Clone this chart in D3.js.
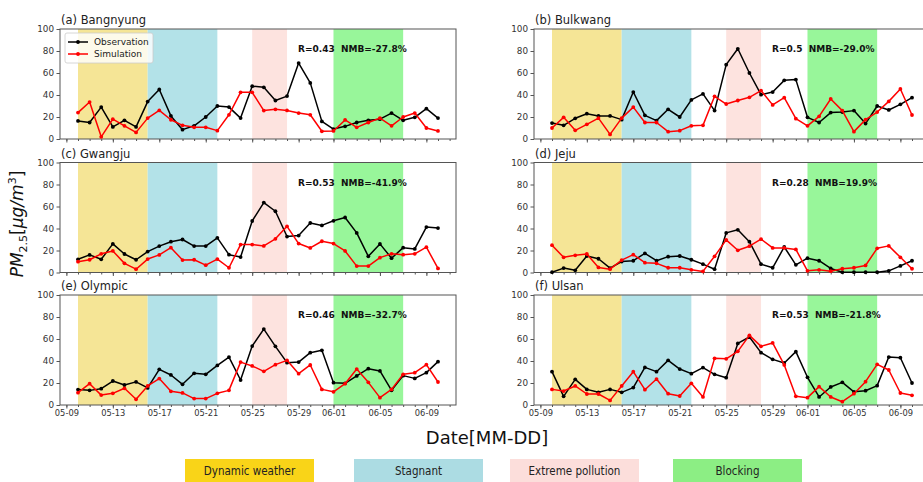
<!DOCTYPE html>
<html>
<head>
<meta charset="utf-8">
<script src="https://cdn.jsdelivr.net/npm/d3@7"></script>
<style>
  body { margin: 0; background: #fff; }
  svg { display: block; font-family: "DejaVu Sans", sans-serif; }
</style>
</head>
<body>
<svg id="chart" width="923" height="482"></svg>
<script>
// Daily PM2.5 at six stations, 10 May – 10 June
const dayLabels = ["05-10","05-11","05-12","05-13","05-14","05-15","05-16","05-17","05-18","05-19",
  "05-20","05-21","05-22","05-23","05-24","05-25","05-26","05-27","05-28","05-29","05-30","05-31",
  "06-01","06-02","06-03","06-04","06-05","06-06","06-07","06-08","06-09","06-10"];

const stations = ["(a) Bangnyung","(b) Bulkwang","(c) Gwangju","(d) Jeju","(e) Olympic","(f) Ulsan"];
const statsText = ["R=0.43  NMB=-27.8%","R=0.5  NMB=-29.0%","R=0.53  NMB=-41.9%",
  "R=0.28  NMB=19.9%","R=0.46  NMB=-32.7%","R=0.53  NMB=-21.8%"];

const obsBangnyung = [16.4,15,29,11,17,11,34,45,21,8.5,12,20,30,29,19,48,47,35,39,69,51,16,9,11.5,15,17,18,23.6,17,19.7,27.6,19];
const simBangnyung = [24,33.6,2,18,12,6,19,26,17.5,12.4,10.6,10.6,7.6,22,42.4,42.4,25.8,27,26,23.6,22,7,7.3,17.3,10.6,15,19,12,20,23.6,10,7.3];
const obsBulkwang = [14.5,12.4,18.8,23,21,21,17.6,42.7,21.5,16.7,27,20,35.5,41,25.8,67.6,82,60,40.3,42.7,53.3,54,19.7,15,24,24.5,25.8,14,30,26.4,31.5,37.6];
const simBulkwang = [10,19.7,7.9,13.3,19,4.2,19,29,15,15,6.7,7.6,12,12.4,38.8,31.8,35,37.9,44,31,37.6,18.5,12,20.6,36.4,25.8,6.7,17.6,24.5,34.2,45.5,21.8];
const obsGwangju = [12,16,12,26,16.8,11.6,19,24,28,30,24,24,31.5,16.2,14,46.8,63.6,55.7,32.7,33.6,45,42.8,47,50,36,14.7,26,13,22.6,21.4,41.3,40.4];
const simGwangju = [9.8,11.6,17,19.6,8.3,3,12.2,16,22.6,11.3,11.6,6.7,12.2,4.3,25.4,25.4,24.2,30.6,42,26.3,22.3,28.4,26.3,19.6,5.8,5.8,13.5,17,16.2,17,23,3.7];
const obsJeju = [0.3,4,2,15,12.5,4,10,10.7,17.4,10.7,14.4,15,11.6,7.6,3,36,38.8,28,7.6,4.3,23.2,7,13,10.7,3.7,0.3,0.3,0.3,0.3,1.5,6,10.7];
const simJeju = [24.8,13.8,15.6,16.8,4.6,3,11.3,16.2,8.9,8.3,4.3,4.3,2.4,1,14.7,29.7,20.2,23.9,30.3,22.3,22.3,21,1.5,2.4,1.2,3.4,4.3,6.4,22,24.2,13.8,3.4];
const obsOlympic = [14,13.3,14.8,21.8,18.2,21,15.5,32.4,27.3,18.8,28.8,27.9,36,43.6,22.7,53.6,69,53.3,38.5,39,47.6,49.7,20.3,19.7,26.4,33,31,13.3,26.7,24.2,29.4,39.4];
const simOlympic = [11.2,19.4,9,10.6,15.2,5.2,17.3,24,12.4,11,5.8,5.8,10.6,13.3,39,35.5,30.6,36.7,40.6,28.5,36.4,14.2,12,19.4,32.7,20.6,6.7,14.2,27.9,29.4,36.7,20.9];
const obsUlsan = [30.3,7.9,23.3,14.2,11.5,14.2,11.5,15.8,34.2,30.3,40.6,32.7,28.5,34,27.9,24.8,56,61.8,47.6,41.5,38.2,48.5,25.2,7.3,16.4,20.6,12,13,17.6,43.6,43,20];
const simUlsan = [14.2,12.7,17.3,10,10,4.2,17.3,30.3,13.9,23.6,10.3,8.2,19.7,7.3,42.4,42,48.8,63.3,53.3,56.4,36.4,7.9,6.7,16.7,7.3,3,10.3,21.2,37,31.8,10.9,8.8];

const obsSeries = [obsBangnyung, obsBulkwang, obsGwangju, obsJeju, obsOlympic, obsUlsan];
const simSeries = [simBangnyung, simBulkwang, simGwangju, simJeju, simOlympic, simUlsan];

// Weather regimes shaded on every panel
const periodNames = ["Dynamic weather","Stagnant","Extreme pollution","Blocking"];
const periodStart = ["05-10","05-16","05-25","06-01"];
const periodEnd   = ["05-16","05-22","05-28","06-07"];
const periodBand  = ["#f5e596","#b3e2e8","#fde3df","#98f69a"];
const periodSwatch = ["#f9d418","#acdce3","#fcdedb","#8cee84"];

const majorTickLabels = ["05-09","05-13","05-17","05-21","05-25","05-29","06-01","06-05","06-09"];
const yTicks = [0,20,40,60,80,100];

const YEAR = 2021;
const toDate = s => { const [m, d] = s.split("-").map(Number); return new Date(YEAR, m - 1, d); };
const dates = dayLabels.map(toDate);

const svg = d3.select("#chart");

const plotW = 396, plotH = 110;
const colX = [60, 534];
const rowY = [29, 162.5, 295];

// Date axis padded by a day and a half on both sides
const padMs = 1.55 * 864e5;
const xDomain = [new Date(dates[0].getTime() - padMs), new Date(dates[dates.length - 1].getTime() + padMs)];

const fmt = d3.timeFormat("%m-%d");
const minorDays = d3.timeDay.range(d3.timeDay.ceil(xDomain[0]), xDomain[1]);

stations.forEach((name, i) => {
  const col = i % 2, row = Math.floor(i / 2);
  const bottomRow = row === 2;
  const g = svg.append("g").attr("transform", `translate(${colX[col]},${rowY[row]})`);

  const x = d3.scaleTime().domain(xDomain).range([0, plotW]);
  const y = d3.scaleLinear().domain([0, 100]).range([plotH, 0]);

  // regime bands
  periodNames.forEach((p, k) => {
    const x0 = x(toDate(periodStart[k])), x1 = x(toDate(periodEnd[k]));
    g.append("rect").attr("x", x0).attr("y", 0).attr("width", x1 - x0).attr("height", plotH)
      .attr("fill", periodBand[k]);
  });

  // frame
  g.append("rect").attr("x", 0).attr("y", 0).attr("width", plotW).attr("height", plotH)
    .attr("fill", "none").attr("stroke", "#555").attr("stroke-width", 1);

  // y axis
  const yAxis = g.append("g").call(d3.axisLeft(y).tickValues(yTicks).tickSize(3.5).tickPadding(2.5));
  yAxis.select(".domain").remove();
  yAxis.selectAll("line").attr("stroke", "#555");
  yAxis.selectAll("text").attr("font-size", 8.8).attr("fill", "#333").attr("font-family", "DejaVu Sans");

  // x axis: daily minor ticks, major ticks labelled on the bottom row only
  const xMinor = g.append("g").attr("transform", `translate(0,${plotH})`)
    .call(d3.axisBottom(x).tickValues(minorDays).tickSize(2).tickFormat(""));
  xMinor.select(".domain").remove();
  xMinor.selectAll("line").attr("stroke", "#555");
  const xAxis = g.append("g").attr("transform", `translate(0,${plotH})`)
    .call(d3.axisBottom(x).tickValues(majorTickLabels.map(toDate)).tickSize(3.5).tickPadding(2)
      .tickFormat(bottomRow ? fmt : () => ""));
  xAxis.select(".domain").remove();
  xAxis.selectAll("line").attr("stroke", "#555");
  xAxis.selectAll("text").attr("font-size", 8.3).attr("fill", "#333").attr("font-family", "DejaVu Sans");

  // series
  const drawSeries = (vals, color) => {
    const pts = vals.map((v, k) => [dates[k], v]);
    const line = d3.line().x(d => x(d[0])).y(d => y(d[1]));
    g.append("path").datum(pts).attr("d", line).attr("fill", "none")
      .attr("stroke", color).attr("stroke-width", 1.5).attr("stroke-linejoin", "round");
    g.append("g").selectAll("circle").data(pts).join("circle")
      .attr("cx", d => x(d[0])).attr("cy", d => y(d[1])).attr("r", 1.9).attr("fill", color);
  };
  drawSeries(obsSeries[i], "#000");
  drawSeries(simSeries[i], "#ff0000");

  // panel title
  g.append("text").attr("x", 1).attr("y", -5).attr("font-size", 11.5).attr("fill", "#222")
    .text(name);

  // statistics
  g.append("text").attr("x", 238).attr("y", 23).attr("font-size", 9).attr("font-weight", "bold")
    .attr("fill", "#111").style("white-space", "pre").text(statsText[i]);

  // series legend on the first panel
  if (i === 0) {
    const lg = g.append("g").attr("transform", "translate(5,4)");
    lg.append("rect").attr("x", 0).attr("y", 0).attr("width", 88).attr("height", 30).attr("rx", 2)
      .attr("fill", "#fff").attr("fill-opacity", 0.8).attr("stroke", "#ccc").attr("stroke-width", 0.8);
    [["Observation", "#000"], ["Simulation", "#ff0000"]].forEach(([lbl, c], k) => {
      const yy = 9 + k * 12;
      lg.append("line").attr("x1", 3).attr("x2", 23).attr("y1", yy).attr("y2", yy)
        .attr("stroke", c).attr("stroke-width", 1.5);
      lg.append("circle").attr("cx", 13).attr("cy", yy).attr("r", 1.9).attr("fill", c);
      lg.append("text").attr("x", 29).attr("y", yy + 3.2).attr("font-size", 9).attr("fill", "#222").text(lbl);
    });
  }
});

// shared axis titles
const yl = svg.append("text").attr("transform", "translate(23,224) rotate(-90)")
  .attr("text-anchor", "middle").attr("font-size", 17).attr("fill", "#111");
yl.append("tspan").attr("font-style", "italic").text("PM");
yl.append("tspan").attr("font-size", 11).attr("dy", 4).text("2.5");
yl.append("tspan").attr("dy", -4).text("[");
yl.append("tspan").attr("font-style", "italic").text("μg/m");
yl.append("tspan").attr("font-size", 11).attr("dy", -7).text("3");
yl.append("tspan").attr("dy", 7).text("]");

svg.append("text").attr("x", 487).attr("y", 444).attr("text-anchor", "middle")
  .attr("font-size", 18).attr("fill", "#111").text("Date[MM-DD]");

// regime legend
const swX = [185, 354, 510, 673];
periodNames.forEach((p, k) => {
  svg.append("rect").attr("x", swX[k]).attr("y", 459).attr("width", 129).attr("height", 24)
    .attr("fill", periodSwatch[k]);
  svg.append("text").attr("x", swX[k] + 64.5).attr("y", 475).attr("text-anchor", "middle")
    .attr("font-size", 11.5).attr("fill", "#222")
    .attr("font-family", "'DejaVu Sans Condensed', 'DejaVu Sans', sans-serif")
    .attr("font-stretch", "condensed").text(p);
});
</script>
</body>
</html>
